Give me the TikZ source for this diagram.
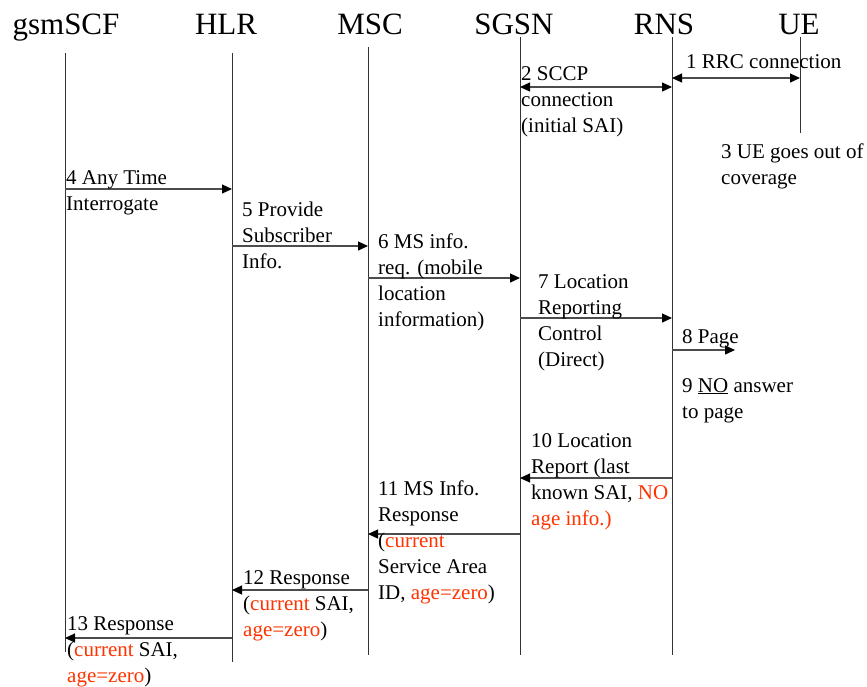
\documentclass[tikz,border=0pt]{standalone}
\usepackage{fontspec}
\setmainfont{Liberation Serif}
\usepackage{xcolor}
\usepackage{tikz}
\usetikzlibrary{arrows.meta}

\definecolor{agered}{RGB}{255,51,0}
\newcommand{\redtxt}[1]{\textcolor{agered}{#1}}

\tikzset{
  lifeline/.style={line width=0.9pt, black!80},
  msg/.style={line width=1.2pt, black!70, -{Triangle[length=10pt,width=9pt,color=black]}},
  bimsg/.style={line width=1.2pt, black!70, {Triangle[length=10pt,width=9pt,color=black]}-{Triangle[length=10pt,width=9pt,color=black]}},
  entity/.style={font=\fontsize{31}{36}\selectfont, anchor=base, inner sep=0pt},
  note/.style={font=\fontsize{21}{26}\selectfont, align=left, anchor=base west, inner sep=0pt}
}

\begin{document}
\begin{tikzpicture}[x=1pt,y=-1pt]
        \useasboundingbox (0,0) rectangle (867,686);
        \node[entity] (scf)  at (66,34)  {gsmSCF};                  %
        \node[entity] (hlr)  at (226,34) {HLR};                     %
        \node[entity] (msc)  at (370,34) {MSC};                     %
        \node[entity] (sgsn) at (514,34) {SGSN};                    %
        \node[entity] (rns)  at (664,34) {RNS};                     %
        \node[entity] (ue)   at (799,34) {UE};                      %
        \coordinate (scfT)  at (65,53);  \coordinate (scfB)  at (65,652);   %
        \coordinate (hlrT)  at (232,53); \coordinate (hlrB)  at (232,662);  %
        \coordinate (mscT)  at (368,47); \coordinate (mscB)  at (368,655);  %
        \coordinate (sgsnT) at (520,37); \coordinate (sgsnB) at (520,655);  %
        \coordinate (rnsT)  at (672,37); \coordinate (rnsB)  at (672,655);  %
        \coordinate (ueT)   at (800,37); \coordinate (ueB)   at (800,133);  %
        \draw [lifeline] (scfT) -- (scfB);                          %
        \draw [lifeline] (hlrT) -- (hlrB);                          %
        \draw [lifeline] (mscT) -- (mscB);                          %
        \draw [lifeline] (sgsnT) -- (sgsnB);                        %
        \draw [lifeline] (rnsT) -- (rnsB);                          %
        \draw [lifeline] (ueT) -- (ueB);                            %UE out of coverage
        \coordinate (m1) at (0,78);   \coordinate (m2) at (0,87);    %
        \coordinate (m4) at (0,189);  \coordinate (m5) at (0,246);   %
        \coordinate (m6) at (0,278);  \coordinate (m7) at (0,318);   %
        \coordinate (m8) at (0,350);  \coordinate (m10) at (0,478);  %
        \coordinate (m11) at (0,534); \coordinate (m12) at (0,590);  %
        \coordinate (m13) at (0,638); \coordinate (pageEnd) at (735,350); %
        \draw [bimsg] (rnsT |- m1) -- (ueT |- m1);                  %RRC
        \draw [bimsg] (sgsnT |- m2) -- (rnsT |- m2);                %SCCP
        \draw [msg] (scfT |- m4) -- (hlrT |- m4);                   %ATI
        \draw [msg] (hlrT |- m5) -- (mscT |- m5);                   %PSI
        \draw [msg] (mscT |- m6) -- (sgsnT |- m6);                  %
        \draw [msg] (sgsnT |- m7) -- (rnsT |- m7);                  %
        \draw [msg] (rnsT |- m8) -- (pageEnd);                      %Page
        \draw [msg] (rnsT |- m10) -- (sgsnT |- m10);                %
        \draw [msg] (sgsnT |- m11) -- (mscT |- m11);                %
        \draw [msg] (mscT |- m12) -- (hlrT |- m12);                 %
        \draw [msg] (hlrT |- m13) -- (scfT |- m13);                 %
        % labels sit on the baseline of their last line
        \node[note] (t1)  at (686,68)  {1 RRC connection};          %
        \node[note] (t2)  at (521,132) {2 SCCP\\connection\\(initial SAI)};
        \node[note] (t3)  at (721,184) {3 UE goes out of\\coverage};
        \node[note] (t4)  at (66,210)  {4 Any Time\\Interrogate};
        \node[note] (t5)  at (242,268) {5 Provide\\Subscriber\\Info.};
        \node[note] (t6)  at (378,326) {6 MS info.\\req. (mobile\\location\\information)};
        \node[note] (t7)  at (538,366) {7 Location\\Reporting\\Control\\(Direct)};
        \node[note] (t8)  at (682,343) {8 Page};                    %
        \node[note] (t9)  at (682,418) {9 \underline{NO} answer\\to page};
        \node[note] (t10) at (531,525) {10 Location\\Report (last\\known SAI, \redtxt{NO}\\\redtxt{age info.)}};
        \node[note] (t11) at (378,599) {11 MS Info.\\Response\\(\redtxt{current}\\Service Area\\ID, \redtxt{age=zero})};
        \node[note] (t12) at (243,636) {12 Response\\(\redtxt{current} SAI,\\\redtxt{age=zero})};
        \node[note] (t13) at (67,682)  {13 Response\\(\redtxt{current} SAI,\\\redtxt{age=zero})};
\end{tikzpicture}
\end{document}
